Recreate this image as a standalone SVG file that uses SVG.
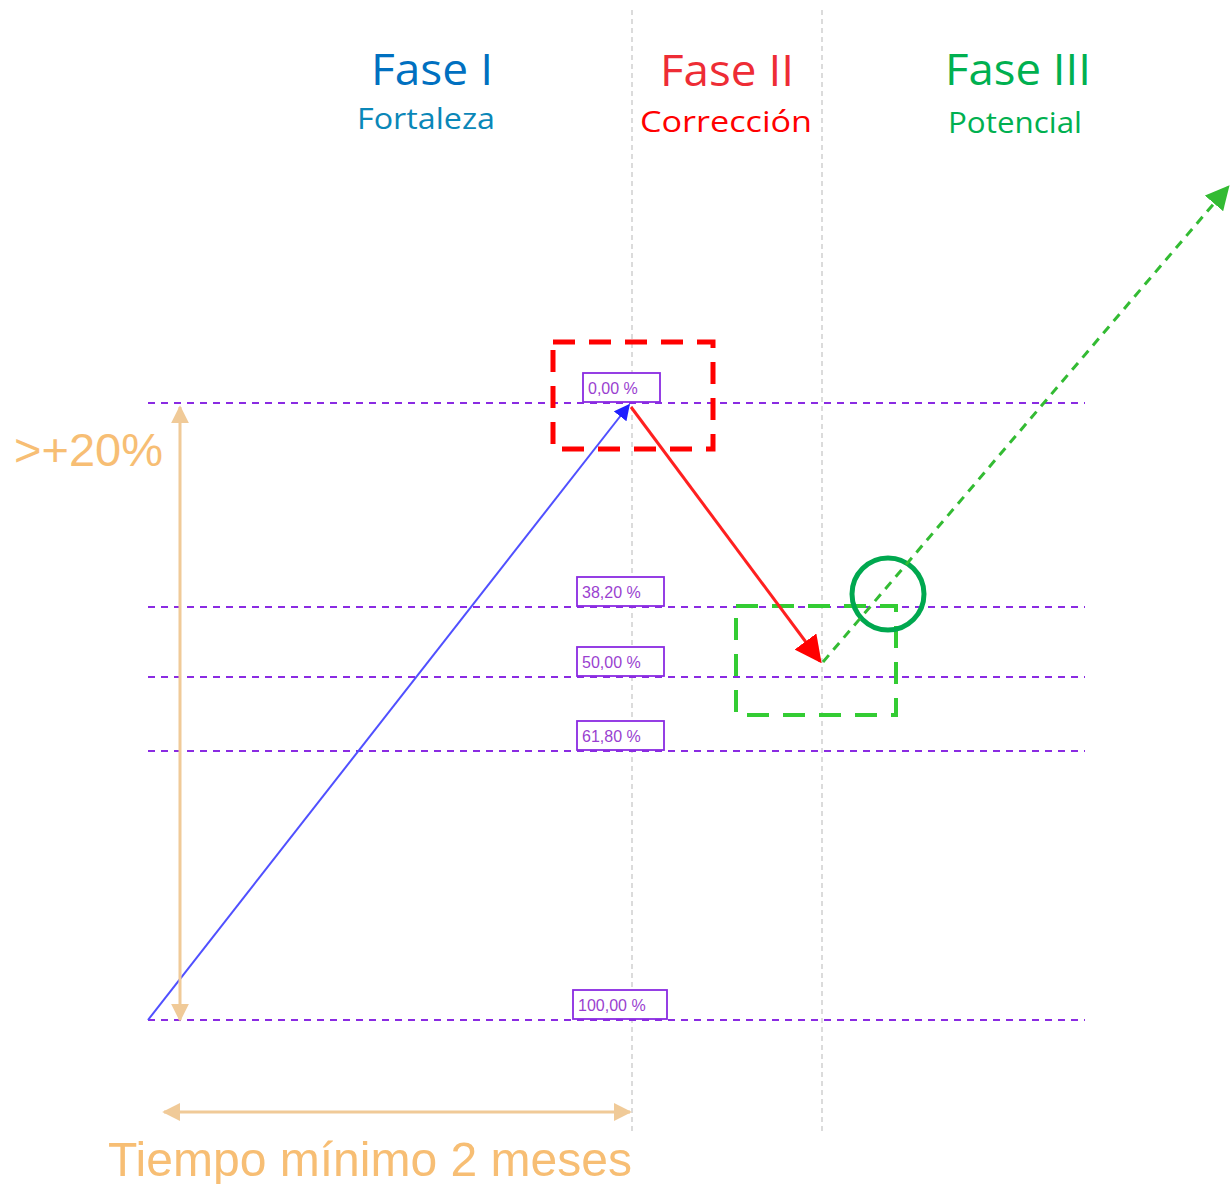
<svg xmlns="http://www.w3.org/2000/svg" width="1230" height="1184" viewBox="0 0 1230 1184">
<defs>
<style>
.vline{stroke:#c8c8c8;stroke-width:1.3;stroke-dasharray:5 4;fill:none}
.hline{stroke:#8a2be2;stroke-width:1.8;stroke-dasharray:7 6;fill:none}
.lbl rect{fill:#fff;stroke:#8a2be2;stroke-width:1.8}
.lbl text{font-family:"Liberation Sans",Arial,sans-serif;font-size:16px;fill:#9a3fd0}
.title{font-family:"Open Sans","Noto Sans",sans-serif;text-anchor:middle}
.orange{stroke:#f0ca98;stroke-width:3;fill:none}
</style>
<marker id="mBlue" viewBox="0 0 10 10" refX="9" refY="5" markerWidth="16" markerHeight="16" markerUnits="userSpaceOnUse" orient="auto"><path d="M0,0 L10,5 L0,10 z" fill="#2020ff"/></marker>
<marker id="mRed" viewBox="0 0 10 10" refX="9" refY="5" markerWidth="9" markerHeight="9" orient="auto"><path d="M0,0 L10,5 L0,10 z" fill="#ff0000"/></marker>
<marker id="mGreen" viewBox="0 0 10 10" refX="9" refY="5" markerWidth="8" markerHeight="8" orient="auto"><path d="M0,0 L10,5 L0,10 z" fill="#33bb33"/></marker>
<marker id="mOr" viewBox="0 0 10 10" refX="9" refY="5" markerWidth="6" markerHeight="6" orient="auto-start-reverse"><path d="M0,0 L10,5 L0,10 z" fill="#f0ca98"/></marker>
</defs>
<rect width="1230" height="1184" fill="#fff"/>

<g id="grid">
<line class="vline" x1="632" y1="10" x2="632" y2="1135"/>
<line class="vline" x1="822" y1="10" x2="822" y2="1135"/>
<line class="hline" x1="148" y1="403" x2="1085" y2="403"/>
<line class="hline" x1="148" y1="607" x2="1085" y2="607"/>
<line class="hline" x1="148" y1="677" x2="1085" y2="677"/>
<line class="hline" x1="148" y1="751" x2="1085" y2="751"/>
<line class="hline" x1="148" y1="1020" x2="1085" y2="1020"/>
</g>

<g id="labels" class="lbl">
<g id="l0"><rect x="583" y="373" width="77" height="29"/><text x="588" y="394">0,00 %</text></g>
<g id="l38"><rect x="577" y="577" width="87" height="29"/><text x="582" y="598">38,20 %</text></g>
<g id="l50"><rect x="577" y="647" width="87" height="29"/><text x="582" y="668">50,00 %</text></g>
<g id="l61"><rect x="577" y="721" width="87" height="29"/><text x="582" y="742">61,80 %</text></g>
<g id="l100"><rect x="573" y="990" width="94" height="29"/><text x="578" y="1011">100,00 %</text></g>
</g>

<g id="highlights">
<rect id="redbox" x="553" y="342" width="160" height="107" fill="none" stroke="#ff0000" stroke-width="5" stroke-dasharray="22 14"/>
<rect id="greenbox" x="736" y="606" width="160" height="109" fill="none" stroke="#33cc33" stroke-width="4" stroke-dasharray="22 14"/>
<circle id="greencircle" cx="888" cy="594" r="36" fill="none" stroke="#00a84f" stroke-width="5"/>
</g>

<g id="connectors">
<line x1="148" y1="1020" x2="629" y2="405" stroke="#5050ff" stroke-width="2" marker-end="url(#mBlue)"/>
<line x1="631" y1="407" x2="820" y2="661" stroke="#ff2020" stroke-width="3" marker-end="url(#mRed)"/>
<line x1="823" y1="662" x2="1228" y2="187" stroke="#33bb33" stroke-width="3" stroke-dasharray="9 7" marker-end="url(#mGreen)"/>
<line class="orange" x1="180" y1="1020" x2="180" y2="407" marker-start="url(#mOr)" marker-end="url(#mOr)"/>
<line class="orange" x1="164" y1="1112" x2="630" y2="1112" marker-start="url(#mOr)" marker-end="url(#mOr)"/>
</g>

<g id="texts">
<text x="14" y="466" font-family="Liberation Sans,Arial,sans-serif" font-size="47" fill="#f7be74">&gt;+20%</text>
<text x="108" y="1176" font-family="Liberation Sans,Arial,sans-serif" font-size="48" fill="#f7be74" textLength="524" lengthAdjust="spacingAndGlyphs">Tiempo mínimo 2 meses</text>
<text class="title" x="432" y="85" font-size="44" fill="#0070c0" textLength="122" lengthAdjust="spacingAndGlyphs">Fase I</text>
<text class="title" x="426" y="129" font-size="30" fill="#0a87b8" textLength="138" lengthAdjust="spacingAndGlyphs">Fortaleza</text>
<text class="title" x="727" y="86" font-size="44" fill="#ee2c35" textLength="134" lengthAdjust="spacingAndGlyphs">Fase II</text>
<text class="title" x="726" y="132" font-size="30" fill="#ff0000" textLength="172" lengthAdjust="spacingAndGlyphs">Corrección</text>
<text class="title" x="1018" y="85" font-size="44" fill="#00b050" textLength="146" lengthAdjust="spacingAndGlyphs">Fase III</text>
<text class="title" x="1015" y="133" font-size="30" fill="#00b050" textLength="134" lengthAdjust="spacingAndGlyphs">Potencial</text>
</g>
</svg>
